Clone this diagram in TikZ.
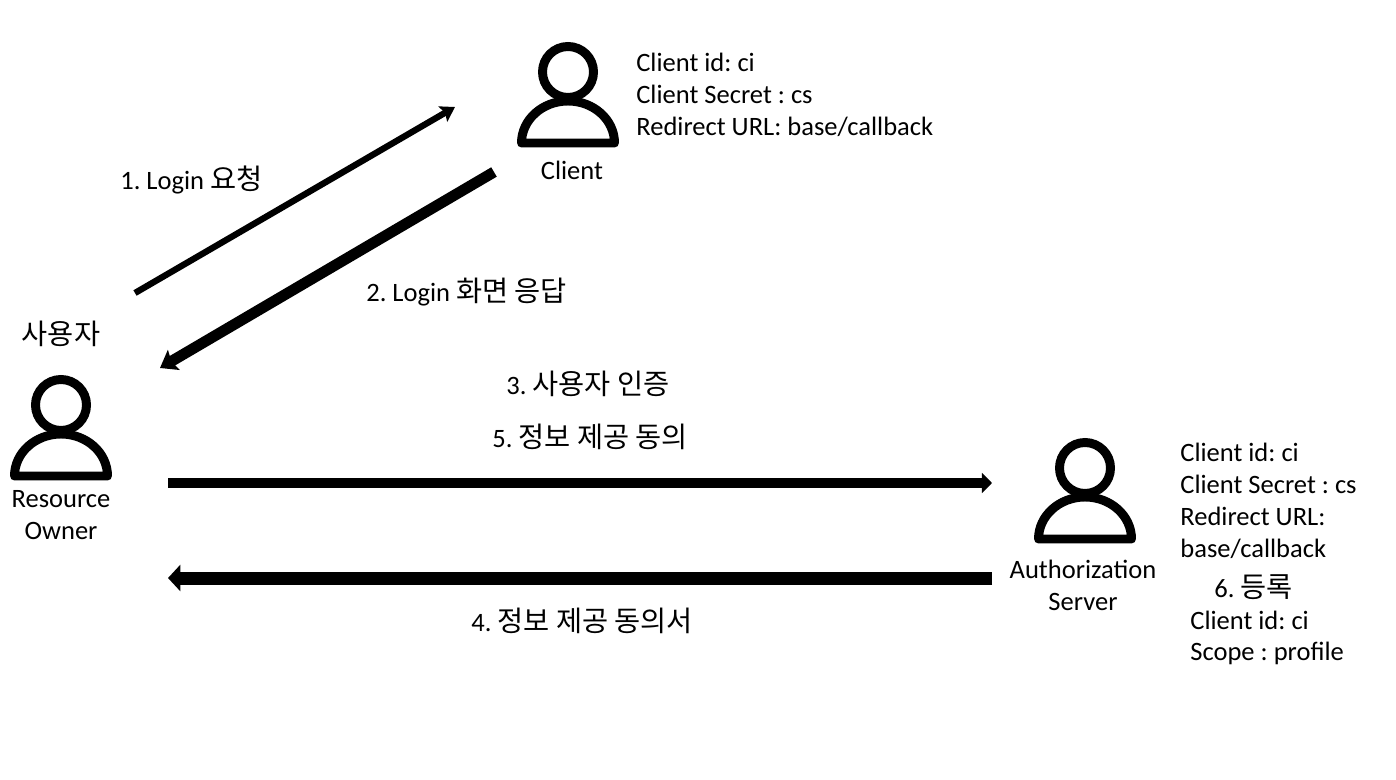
\documentclass[tikz,border=0pt]{standalone}
\usepackage{fontspec}
\setmainfont{Carlito}
\newfontfamily\kor[Scale=1.07]{Noto Sans CJK KR}
\usetikzlibrary{arrows.meta}
\tikzset{
    person/.pic={
        \draw [line width=5.1pt] (0,0) circle (25.5);
        \draw [line width=5.1pt,line join=round] (-46.5,71) arc (180:360:46.5 and 42) -- cycle;
    },
    txt/.style={inner sep=0pt,font=\fontsize{15.1}{18.1}\selectfont\frenchspacing,align=left},
    ctxt/.style={inner sep=0pt,font=\fontsize{15.1}{18.1}\selectfont\frenchspacing,align=center},
    thinarrow/.style={line width=3.6pt,-{Stealth[length=8pt,width=10pt,inset=1.5pt]}},
    midarrow/.style={line width=6.2pt,-{Stealth[length=9pt,width=13pt,inset=1.5pt]}},
    flatarrow/.style={line width=5.7pt,-{Triangle[length=5.7pt,width=11.3pt]}},
    widearrow/.style={line width=7.4pt,-{Triangle[length=7pt,width=14.7pt]}},
}
\begin{document}
\begin{tikzpicture}[x=0.02cm,y=-0.02cm]
    \useasboundingbox (0,0) rectangle (1396,780);

    \pic at (61,405) {person};
    \pic at (568,72) {person};
    \pic at (1085,468) {person};

    \node [ctxt] (ownerkr) at (61,334) {\kor 사용자};
    \node [ctxt] (owner) at (61,515) {Resource\\Owner};
    \node [ctxt] (client) at (572,170) {Client};
    \node [ctxt] (authz) at (1083,585) {Authorization\\Server};

    \node [txt,anchor=west] (clientinfo) at (636,95) {Client id: ci\\Client Secret : cs\\Redirect URL: base/callback};
    \node [txt,anchor=west] (authzinfo) at (1180,501) {Client id: ci\\Client Secret : cs\\Redirect URL:\\base/callback};
    \node [txt,anchor=west] (reg) at (1214,587) {6. {\kor 등록}};
    \node [txt,anchor=west] (reginfo) at (1190,638) {Client id: ci\\Scope : profile};

    \node [txt,anchor=west] (step1) at (120,180) {1. Login {\kor 요청}};
    \node [txt,anchor=west] (step2) at (366,292) {2. Login {\kor 화면 응답}};
    \node [txt,anchor=west] (step3) at (506,384) {3. {\kor 사용자 인증}};
    \node [txt,anchor=west] (step5) at (492,437) {5. {\kor 정보 제공 동의}};
    \node [txt,anchor=west] (step4) at (471,621) {4. {\kor 정보 제공 동의서}};

    \coordinate (a1) at (135,293);
    \coordinate (b1) at (455,107);
    \coordinate (a2) at (494,172);
    \coordinate (b2) at (160,368);
    \coordinate (a3) at (168,483);
    \coordinate (b3) at (992,483);
    \coordinate (a4) at (992,578);
    \coordinate (b4) at (168,578);

    \draw [thinarrow] (a1) -- (b1);
    \draw [midarrow] (a2) -- (b2);
    \draw [flatarrow] (a3) -- (b3);
    \draw [widearrow] (a4) -- (b4);
\end{tikzpicture}
\end{document}
